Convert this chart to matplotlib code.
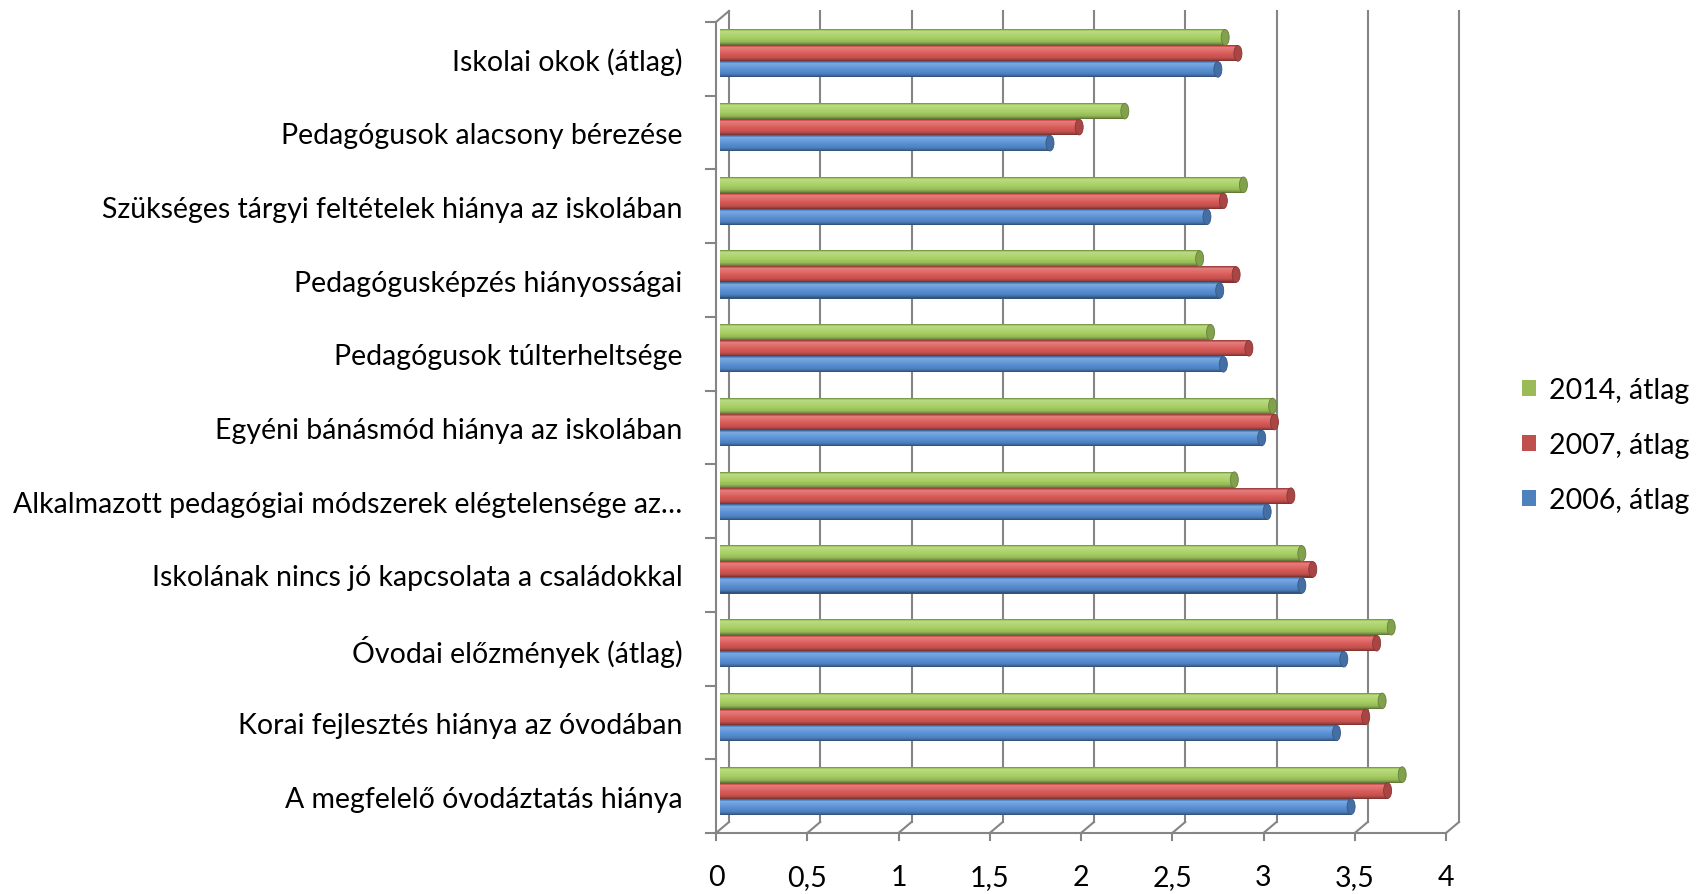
import numpy as np
import matplotlib
matplotlib.use("Agg")
import matplotlib.pyplot as plt
from matplotlib.patches import Ellipse, Patch
from matplotlib.transforms import offset_copy

plt.rcParams["font.family"] = ["Lato", "DejaVu Sans"]

# categories listed bottom -> top
categories = [
    "A megfelelő óvodáztatás hiánya",
    "Korai fejlesztés hiánya az óvodában",
    "Óvodai előzmények (átlag)",
    "Iskolának nincs jó kapcsolata a családokkal",
    "Alkalmazott pedagógiai módszerek elégtelensége az…",
    "Egyéni bánásmód hiánya az iskolában",
    "Pedagógusok túlterheltsége",
    "Pedagógusképzés hiányosságai",
    "Szükséges tárgyi feltételek hiánya az iskolában",
    "Pedagógusok alacsony bérezése",
    "Iskolai okok (átlag)",
]
v2006 = [3.48, 3.40, 3.44, 3.21, 3.02, 2.99, 2.78, 2.76, 2.69, 1.83, 2.75]
v2007 = [3.68, 3.56, 3.62, 3.27, 3.15, 3.06, 2.92, 2.85, 2.78, 1.99, 2.86]
v2014 = [3.76, 3.65, 3.70, 3.21, 2.84, 3.05, 2.71, 2.65, 2.89, 2.24, 2.79]
series_names = ["2014, átlag", "2007, átlag", "2006, átlag"]
x_ticks = [0, 0.5, 1, 1.5, 2, 2.5, 3, 3.5, 4]
x_ticklabels = ["0", "0,5", "1", "1,5", "2", "2,5", "3", "3,5", "4"]

W, H = 1705, 895
fig = plt.figure(figsize=(W / 100, H / 100), dpi=100)
# front frame of the pseudo-3D plot area, in pixels
fl, fr, ft, fb = 716, 1446, 23, 834
ax = fig.add_axes([fl / W, (H - fb) / H, (fr - fl) / W, (fb - ft) / H])
ax.set_xlim(0, 4)
ax.set_ylim(-0.5, len(categories) - 0.5)
for s in ax.spines.values():
    s.set_visible(False)

px_x = 4 / (fr - fl)             # data units per pixel
px_y = len(categories) / (fb - ft)
DX, DY = 13, 11                  # depth offset of the back wall (pixels)

grid_c = "#858585"
lw = 1.5
ymin, ymax = -0.5, len(categories) - 0.5

# back wall gridlines
back_tr = offset_copy(ax.transData, fig=fig, x=DX, y=DY, units="dots")
for v in x_ticks:
    ax.plot([v, v], [ymin, ymax], color=grid_c, lw=lw, transform=back_tr,
            clip_on=False, zorder=1)
# floor: front line, ticks, and depth diagonals
ax.plot([0, 4], [ymin, ymin], color=grid_c, lw=lw, clip_on=False, zorder=1)
for v in x_ticks:
    ax.plot([v, v], [ymin, ymin - 7 * px_y], color=grid_c, lw=lw, clip_on=False)
    ax.plot([v, v + DX * px_x], [ymin, ymin + DY * px_y], color=grid_c, lw=lw,
            clip_on=False, zorder=1)
# left front axis with category ticks
ax.plot([0, 0], [ymin, ymax], color=grid_c, lw=lw, clip_on=False, zorder=1)
for b in np.arange(ymin, ymax + 0.01, 1):
    ax.plot([-10 * px_x, 0], [b, b], color=grid_c, lw=lw, clip_on=False)
ax.plot([0, DX * px_x], [ymax, ymax + DY * px_y], color=grid_c, lw=lw,
        clip_on=False)

# cylinder-like bars
bar_colors = {"2014": (0.65, 0.81, 0.38), "2007": (0.85, 0.35, 0.34),
              "2006": (0.34, 0.56, 0.83)}
legend_colors = ["#9BBB59", "#C0504D", "#4F81BD"]
bar_tr = offset_copy(ax.transData, fig=fig, x=4, y=5.5, units="dots")
bh = 16 * px_y
cap_w = 8 * px_x
prof_t = [0.0, 0.07, 0.16, 0.32, 0.55, 0.78, 0.9, 1.0]
prof_f = [0.62, 0.92, 1.14, 1.08, 1.0, 0.9, 0.74, 0.52]


def shade(base, f):
    base = np.array(base)
    if f >= 1:
        return tuple(base + (1 - base) * (f - 1) * 1.6)
    return tuple(base * f)


yc = np.arange(len(categories))
n_str = 16
for vals, key, off in [(v2014, "2014", bh), (v2007, "2007", 0.0),
                       (v2006, "2006", -bh)]:
    base = bar_colors[key]
    vals = np.array(vals)
    widths = vals - cap_w / 2
    top = yc + off + bh / 2
    for i in range(n_str):
        t = (i + 0.5) / n_str
        f = np.interp(t, prof_t, prof_f)
        ax.barh(top - (i + 0.5) * bh / n_str, widths, height=bh / n_str * 1.25,
                left=0, color=shade(base, f), linewidth=0, transform=bar_tr,
                zorder=3)
    for y, w in zip(yc + off, widths):
        ax.add_patch(Ellipse((w, y), cap_w, bh * 0.98, facecolor=shade(base, 0.78),
                             edgecolor=shade(base, 0.62), lw=0.6,
                             transform=bar_tr, zorder=4))

# tick labels
fs = 20.5
ax.set_yticks(yc)
ax.set_yticklabels(categories, fontsize=fs)
ax.tick_params(axis="y", length=0, pad=24)
ax.set_xticks(x_ticks)
ax.set_xticklabels(x_ticklabels, fontsize=fs)
ax.tick_params(axis="x", length=0, pad=22)

handles = [Patch(facecolor=c, edgecolor="none") for c in legend_colors]
fig.legend(handles, series_names, loc="center left",
           bbox_to_anchor=(1522 / W, 1 - 446 / H), frameon=False, fontsize=fs,
           handlelength=0.5, handleheight=0.5, handletextpad=0.45,
           labelspacing=1.02, borderpad=0, borderaxespad=0)

fig.savefig("out.png", dpi=100, facecolor="white")
